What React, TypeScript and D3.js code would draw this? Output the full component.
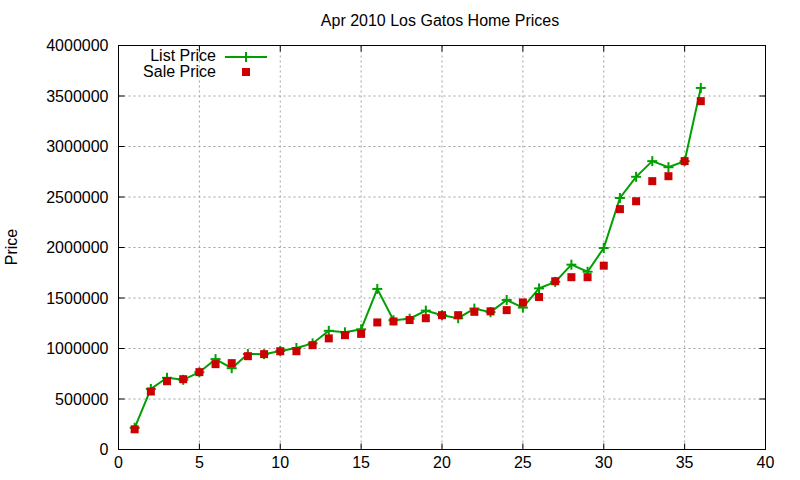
import { useEffect, useRef } from 'react'
import * as d3 from 'd3'

const title = 'Apr 2010 Los Gatos Home Prices'
const houseIndex = [
  1, 2, 3, 4, 5, 6, 7, 8, 9, 10, 11, 12, 13, 14, 15, 16, 17, 18,
  19, 20, 21, 22, 23, 24, 25, 26, 27, 28, 29, 30, 31, 32, 33, 34, 35, 36,
]
const listPrice = [
  215000, 600000, 710000, 690000, 765000, 895000, 805000, 945000, 944000, 975000,
  1005000, 1050000, 1175000, 1160000, 1190000, 1590000, 1280000, 1295000, 1375000, 1330000,
  1300000, 1395000, 1360000, 1480000, 1405000, 1595000, 1660000, 1830000, 1760000, 1995000,
  2490000, 2700000, 2855000, 2795000, 2855000, 3580000,
]
const salePrice = [
  200000, 574000, 676000, 696000, 766000, 845000, 855000, 924000, 944000, 973000,
  973000, 1033000, 1100000, 1132000, 1145000, 1258000, 1268000, 1282000, 1300000, 1330000,
  1330000, 1363000, 1368000, 1380000, 1456000, 1510000, 1666000, 1706000, 1706000, 1820000,
  2380000, 2458000, 2657000, 2706000, 2855000, 3449000,
]
const xTicks = [0, 5, 10, 15, 20, 25, 30, 35, 40]
const yTicks = [0, 500000, 1000000, 1500000, 2000000, 2500000, 3000000, 3500000, 4000000]

const GREEN = '#00a000'
const RED = '#cc0000'
const FONT = '"Liberation Sans", Arial, sans-serif'

export default function App() {
  const svgRef = useRef<SVGSVGElement>(null)
  const width = 800
  const height = 480

  useEffect(() => {
    if (!svgRef.current) return
    const svg = d3.select(svgRef.current)
    svg.selectAll('*').remove()

    const margin = { top: 45, right: 35, bottom: 31, left: 118 }
    const innerWidth = width - margin.left - margin.right
    const innerHeight = height - margin.top - margin.bottom

    const x = d3.scaleLinear().domain([0, 40]).range([0, innerWidth])
    const y = d3.scaleLinear().domain([0, 4000000]).range([innerHeight, 0])

    svg.append('rect').attr('width', width).attr('height', height).attr('fill', 'white')

    // Title
    svg
      .append('text')
      .attr('x', 440)
      .attr('y', 26)
      .attr('text-anchor', 'middle')
      .attr('font-family', FONT)
      .attr('font-size', '16px')
      .attr('fill', '#000')
      .text(title)

    // Y label
    svg
      .append('text')
      .attr('transform', `translate(17,${margin.top + innerHeight / 2}) rotate(-90)`)
      .attr('text-anchor', 'middle')
      .attr('font-family', FONT)
      .attr('font-size', '16px')
      .text('Price')

    const g = svg.append('g').attr('transform', `translate(${margin.left + 0.5},${margin.top + 0.5})`)

    // Grid lines (skip the ones at the frame)
    g.append('g')
      .selectAll('line')
      .data(xTicks.filter((t) => t > 0 && t < 40))
      .enter()
      .append('line')
      .attr('x1', (d) => x(d))
      .attr('x2', (d) => x(d))
      .attr('y1', 0)
      .attr('y2', innerHeight)
      .attr('stroke', '#a0a0a0')
      .attr('stroke-dasharray', '2,3')

    g.append('g')
      .selectAll('line')
      .data(yTicks.filter((t) => t > 0 && t < 4000000))
      .enter()
      .append('line')
      .attr('x1', 0)
      .attr('x2', innerWidth)
      .attr('y1', (d) => y(d))
      .attr('y2', (d) => y(d))
      .attr('stroke', '#a0a0a0')
      .attr('stroke-dasharray', '2,3')

    // Tick marks on all four sides, pointing inward
    const tickLen = 6
    const ticks = g.append('g').attr('stroke', '#000')
    xTicks.forEach((t) => {
      ticks.append('line').attr('x1', x(t)).attr('x2', x(t)).attr('y1', innerHeight).attr('y2', innerHeight - tickLen)
      ticks.append('line').attr('x1', x(t)).attr('x2', x(t)).attr('y1', 0).attr('y2', tickLen)
    })
    yTicks.forEach((t) => {
      ticks.append('line').attr('x1', 0).attr('x2', tickLen).attr('y1', y(t)).attr('y2', y(t))
      ticks.append('line').attr('x1', innerWidth).attr('x2', innerWidth - tickLen).attr('y1', y(t)).attr('y2', y(t))
    })

    // Tick labels
    g.append('g')
      .selectAll('text')
      .data(xTicks)
      .enter()
      .append('text')
      .attr('x', (d) => x(d))
      .attr('y', innerHeight + 18)
      .attr('text-anchor', 'middle')
      .attr('font-family', FONT)
      .attr('font-size', '16px')
      .text((d) => d)

    g.append('g')
      .selectAll('text')
      .data(yTicks)
      .enter()
      .append('text')
      .attr('x', -10)
      .attr('y', (d) => y(d))
      .attr('dy', '0.35em')
      .attr('text-anchor', 'end')
      .attr('font-family', FONT)
      .attr('font-size', '16px')
      .text((d) => d)

    // List price line + markers
    const listData = houseIndex.map((h, i) => ({ h, v: listPrice[i] }))
    const saleData = houseIndex.map((h, i) => ({ h, v: salePrice[i] }))

    const line = d3
      .line<{ h: number; v: number }>()
      .x((d) => x(d.h))
      .y((d) => y(d.v))

    g.append('path')
      .datum(listData)
      .attr('d', line)
      .attr('fill', 'none')
      .attr('stroke', GREEN)
      .attr('stroke-width', 2)

    const plus = 5
    const plusG = g.append('g').attr('stroke', GREEN).attr('stroke-width', 2)
    listData.forEach((d) => {
      const cx = x(d.h)
      const cy = y(d.v)
      plusG.append('line').attr('x1', cx - plus).attr('x2', cx + plus).attr('y1', cy).attr('y2', cy)
      plusG.append('line').attr('x1', cx).attr('x2', cx).attr('y1', cy - plus).attr('y2', cy + plus)
    })

    // Sale price squares
    const sq = 8
    g.append('g')
      .selectAll('rect')
      .data(saleData)
      .enter()
      .append('rect')
      .attr('x', (d) => x(d.h) - sq / 2)
      .attr('y', (d) => y(d.v) - sq / 2)
      .attr('width', sq)
      .attr('height', sq)
      .attr('fill', RED)

    // Frame
    g.append('rect')
      .attr('width', innerWidth)
      .attr('height', innerHeight)
      .attr('fill', 'none')
      .attr('stroke', '#000')

    // Legend
    const legend = svg.append('g').attr('font-family', FONT).attr('font-size', '16px')
    legend.append('text').attr('x', 216).attr('y', 55).attr('dy', '0.35em').attr('text-anchor', 'end').text('List Price')
    legend.append('text').attr('x', 216).attr('y', 71).attr('dy', '0.35em').attr('text-anchor', 'end').text('Sale Price')
    legend.append('line').attr('x1', 225).attr('x2', 267).attr('y1', 57).attr('y2', 57).attr('stroke', GREEN).attr('stroke-width', 2)
    legend.append('line').attr('x1', 241).attr('x2', 251).attr('y1', 57).attr('y2', 57).attr('stroke', GREEN).attr('stroke-width', 2)
    legend.append('line').attr('x1', 246).attr('x2', 246).attr('y1', 52).attr('y2', 62).attr('stroke', GREEN).attr('stroke-width', 2)
    legend.append('rect').attr('x', 242).attr('y', 68).attr('width', sq).attr('height', sq).attr('fill', RED)
  }, [])

  return (
    <svg
      ref={svgRef}
      width={width}
      height={height}
      style={{ position: 'absolute', left: 0, top: 0, display: 'block' }}
    />
  )
}
